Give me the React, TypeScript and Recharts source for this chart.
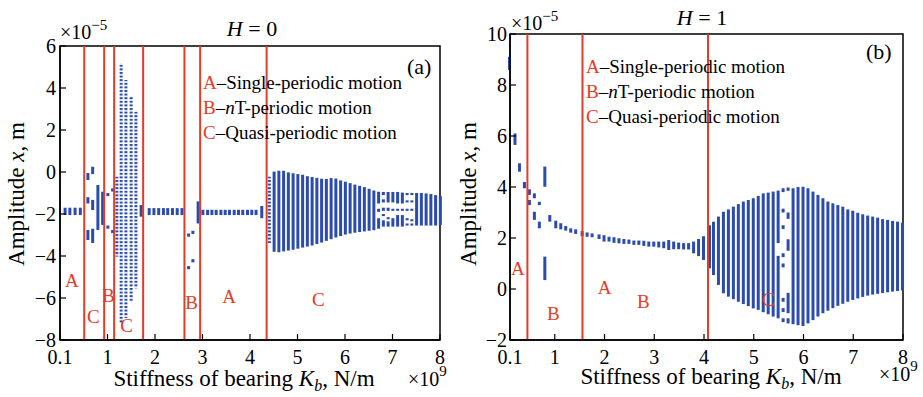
import { Bar, ComposedChart, ReferenceArea, ReferenceDot, ReferenceLine, XAxis, YAxis } from 'recharts';

const BLUE = '#2b4cad';
const RED = '#e63b27';
const FONT = '"Liberation Serif", "Times New Roman", Times, serif';

// Columns: [stiffness (×1e9), top1, bottom1, top2, bottom2, ...] in units of 1e-5 m
type Column = number[];

// ---- (a) H = 0 ----
const LEFT_X_TICKS = [0, 1, 2, 3, 4, 5, 6, 7, 8];
const LEFT_Y_TICKS = [-8, -6, -4, -2, 0, 2, 4, 6];
const LEFT_BOUNDS = [0.51, 0.93, 1.14, 1.75, 2.62, 2.95, 4.35];
const LEFT_LABELS: [string, number, number][] = [
  ['A', 0.25, -5.14], ['C', 0.7, -6.89], ['B', 1.02, -5.86], ['C', 1.4, -7.32],
  ['B', 2.77, -6.18], ['A', 3.56, -5.94], ['C', 5.44, -6.06],
];
const LEFT_COLUMNS: Column[] = [
  [0.1, -1.7, -2.05], [0.2, -1.7, -2.05], [0.31, -1.7, -2.05], [0.42, -1.7, -2.05],
  [0.58, -0.05, -0.38, -1.2, -1.5, -2.76, -3.24],
  [0.68, 0.25, -0.1, -1.33, -1.81, -2.7, -3.38],
  [0.79, -0.62, -2.76], [0.89, -0.94, -2.52],
  [1.0, -1.0, -1.15, -2.55, -2.7], [1.1, -0.78, -0.93, -2.76, -2.91],
  [1.7, -1.57, -2.13],
  [1.87, -1.72, -2.05], [1.97, -1.72, -2.05], [2.07, -1.72, -2.05], [2.17, -1.72, -2.05],
  [2.26, -1.72, -2.05], [2.36, -1.72, -2.05], [2.46, -1.72, -2.05], [2.56, -1.72, -2.05],
  [2.7, -2.93, -3.08, -4.48, -4.63], [2.79, -2.8, -2.95, -4.15, -4.3],
  [2.9, -1.4, -2.45],
  [3.0, -1.8, -2.05], [3.1, -1.8, -2.05], [3.19, -1.8, -2.05], [3.28, -1.8, -2.05],
  [3.38, -1.8, -2.05], [3.47, -1.8, -2.05], [3.56, -1.8, -2.05], [3.66, -1.8, -2.05],
  [3.75, -1.8, -2.05], [3.84, -1.8, -2.05], [3.94, -1.8, -2.05], [4.03, -1.8, -2.05],
  [4.12, -1.8, -2.05], [4.24, -1.62, -2.2],
  [4.5, 0.02, -3.8], [4.6, 0.06, -3.82], [4.7, 0.06, -3.78], [4.8, -0.02, -3.74],
  [4.9, -0.06, -3.7], [5.0, -0.1, -3.65], [5.1, -0.13, -3.6], [5.2, -0.2, -3.55],
  [5.3, -0.24, -3.5], [5.4, -0.28, -3.43], [5.5, -0.32, -3.36], [5.6, -0.33, -3.28],
  [5.7, -0.29, -3.2], [5.8, -0.31, -3.12], [5.9, -0.4, -3.05], [6.0, -0.46, -2.98],
  [6.1, -0.53, -2.93], [6.2, -0.6, -2.89], [6.3, -0.66, -2.86], [6.4, -0.72, -2.83],
  [6.5, -0.8, -2.8], [6.6, -0.88, -2.77],
  [6.7, -0.94, -1.5, -1.75, -1.9, -2.2, -2.7],
  [6.8, -0.95, -1.1, -1.3, -1.45, -1.7, -1.85, -2.0, -2.1, -2.3, -2.6],
  [6.9, -0.95, -1.45, -1.7, -1.85, -2.15, -2.25, -2.35, -2.6],
  [7.0, -0.95, -1.45, -1.75, -1.85, -2.2, -2.6],
  [7.1, -0.95, -1.5, -1.75, -1.85, -2.05, -2.6],
  [7.2, -0.98, -1.5, -1.75, -1.85, -2.05, -2.6],
  [7.3, -1.0, -1.1, -1.35, -1.45, -1.75, -1.85, -2.2, -2.3, -2.45, -2.55],
  [7.4, -1.0, -1.1, -1.35, -1.45, -1.75, -1.85, -2.25, -2.35, -2.45, -2.55],
  [7.5, -1.0, -2.55], [7.6, -1.0, -2.55], [7.7, -1.02, -2.55], [7.8, -1.05, -2.55],
  [7.9, -1.1, -2.55], [8.0, -1.15, -2.52],
];
// loosely dotted columns (quasi-periodic scatter)
const LEFT_SPARSE: Column[] = [
  [1.19, -0.22, -4.03], [1.28, 5.17, -7.2], [1.38, 4.38, -6.95],
  [1.49, 3.59, -6.18], [1.59, 2.87, -5.54], [4.4, -0.22, -3.4],
];

// ---- (b) H = 1 ----
const RIGHT_X_TICKS = [0.1, 1, 2, 3, 4, 5, 6, 7, 8];
const RIGHT_Y_TICKS = [-2, 0, 2, 4, 6, 8, 10];
const RIGHT_BOUNDS = [0.45, 1.557, 4.08];
const RIGHT_LABELS: [string, number, number][] = [
  ['A', 0.26, 0.81], ['B', 0.97, -0.96], ['A', 2.0, 0.06], ['B', 2.78, -0.48], ['C', 5.29, -0.4],
];
const RIGHT_COLUMNS: Column[] = [
  [0.1, 9.11, 8.59], [0.21, 6.1, 5.65], [0.3, 4.93, 4.6], [0.4, 4.2, 3.95],
  [0.5, 3.91, 3.69, 3.49, 3.29], [0.6, 3.75, 3.56, 3.03, 2.71],
  [0.7, 3.42, 3.29, 2.64, 2.38], [0.81, 4.8, 4.01, 1.27, 0.35],
  [0.91, 2.9, 2.64], [1.03, 2.68, 2.38], [1.13, 2.58, 2.34], [1.23, 2.47, 2.29],
  [1.33, 2.38, 2.21], [1.43, 2.34, 2.16], [1.56, 2.27, 2.07], [1.66, 2.22, 2.05],
  [1.76, 2.18, 2.03], [1.9, 2.14, 1.96], [2.0, 2.11, 1.86], [2.1, 2.05, 1.86],
  [2.2, 2.03, 1.81], [2.3, 1.99, 1.79], [2.4, 1.96, 1.77], [2.5, 1.94, 1.77],
  [2.6, 1.9, 1.73], [2.7, 1.9, 1.73], [2.8, 1.89, 1.69], [2.9, 1.86, 1.66],
  [3.0, 1.86, 1.66], [3.1, 1.86, 1.63], [3.2, 1.86, 1.6], [3.3, 1.92, 1.53],
  [3.4, 1.86, 1.56], [3.5, 1.82, 1.56], [3.6, 1.8, 1.55], [3.7, 1.8, 1.55],
  [3.8, 1.86, 1.4], [3.9, 1.96, 1.29], [4.0, 2.07, 1.14],
  [4.12, 2.5, 0.81], [4.2, 2.64, 0.55], [4.3, 2.84, 0.16], [4.4, 3.03, -0.17],
  [4.5, 3.12, -0.3], [4.6, 3.23, -0.4], [4.7, 3.33, -0.5], [4.8, 3.43, -0.59],
  [4.9, 3.49, -0.67], [5.0, 3.56, -0.76], [5.1, 3.65, -0.82], [5.2, 3.75, -0.91],
  [5.3, 3.78, -0.99], [5.4, 3.82, -1.08],
  [5.5, 3.86, 1.8, 1.3, -1.15],
  [5.6, 3.95, 3.8, 3.15, 3.0, 2.5, 2.35, 1.4, 1.25, 1.0, 0.85, -0.35, -0.5, -0.75, -0.9, -1.15, -1.3],
  [5.7, 3.98, 3.85, 3.0, 2.75, 1.95, 1.5, -0.15, -0.95, -1.15, -1.35],
  [5.8, 3.95, -1.38], [5.9, 4.0, -1.42], [6.0, 4.01, -1.45], [6.1, 3.95, -1.35],
  [6.2, 3.82, -1.22], [6.3, 3.69, -1.08], [6.4, 3.56, -0.95], [6.5, 3.43, -0.85],
  [6.6, 3.36, -0.75], [6.7, 3.29, -0.66], [6.8, 3.23, -0.58], [6.9, 3.12, -0.5],
  [7.0, 3.07, -0.43], [7.1, 2.99, -0.37], [7.2, 2.93, -0.31], [7.3, 2.88, -0.26],
  [7.4, 2.84, -0.22], [7.5, 2.8, -0.19], [7.6, 2.74, -0.16], [7.7, 2.71, -0.13],
  [7.8, 2.67, -0.1], [7.9, 2.64, -0.08], [8.0, 2.6, -0.06],
];
const RIGHT_SPARSE: Column[] = [];

const SEG_KEYS = ['s0', 's1', 's2', 's3', 's4', 's5', 's6', 's7', 'dots'];

type Row = { x: number; [key: string]: number | [number, number] };

function buildRows(cols: Column[], sparse: Column[]): Row[] {
  const rows = new Map<number, Row>();
  const get = (x: number) => {
    if (!rows.has(x)) rows.set(x, { x });
    return rows.get(x)!;
  };
  cols.forEach(([x, ...vals]) => {
    const row = get(x);
    for (let i = 0; i + 1 < vals.length; i += 2) row[`s${i / 2}`] = [vals[i + 1], vals[i]];
  });
  sparse.forEach(([x, hi, lo]) => {
    get(x).dots = [lo, hi];
  });
  return [...rows.values()].sort((a, b) => a.x - b.x);
}

const fmtY = (v: number) => (v < 0 ? `\u2212${-v}` : `${v}`);

const TICK_STYLE = { fontSize: 20, fill: '#000', fontFamily: FONT, style: { fontFamily: FONT } };

interface PanelProps {
  rows: Row[];
  xDomain: [number, number];
  yDomain: [number, number];
  xTicks: number[];
  yTicks: number[];
  bounds: number[];
  labels: [string, number, number][];
  xFormat: (v: number) => string;
  marginLeft: number;
  marginTop: number;
  width: number;
  yTickMargin: number;
  patternId: string;
}

const Panel = ({ rows, xDomain, yDomain, xTicks, yTicks, bounds, labels, xFormat, marginLeft, marginTop, width, yTickMargin, patternId }: PanelProps) => (
  <ComposedChart width={width} height={397} data={rows} margin={{ top: marginTop, right: 20, left: marginLeft, bottom: 27 }}>
    <defs>
      <pattern id={patternId} width="4" height="3.6" patternUnits="userSpaceOnUse">
        <rect width="4" height="2" fill={BLUE} />
      </pattern>
    </defs>
    {SEG_KEYS.map((k, i) => (
      <XAxis
        key={k}
        xAxisId={k}
        dataKey="x"
        type="number"
        domain={xDomain}
        ticks={xTicks}
        hide={i !== 0}
        height={i === 0 ? 30 : 0}
        tickFormatter={xFormat}
        tickSize={-6}
        tickMargin={16}
        tick={TICK_STYLE}
        axisLine={{ stroke: '#000', strokeWidth: 1.5 }}
        tickLine={{ stroke: '#000', strokeWidth: 1.2 }}
        interval={0}
      />
    ))}
    <YAxis
      type="number"
      domain={yDomain}
      ticks={yTicks}
      width={50}
      tickFormatter={fmtY}
      tickSize={-6}
      tickMargin={yTickMargin}
      tick={TICK_STYLE}
      axisLine={{ stroke: '#000', strokeWidth: 1.5 }}
      tickLine={{ stroke: '#000', strokeWidth: 1.2 }}
      interval={0}
    />
    <ReferenceArea xAxisId="s0" x1={xDomain[0]} x2={xDomain[1]} y1={yDomain[0]} y2={yDomain[1]} fill="none" stroke="#000" strokeWidth={1.5} fillOpacity={0} />
    {SEG_KEYS.map((k) => (
      <Bar
        key={k}
        xAxisId={k}
        dataKey={k}
        barSize={3}
        fill={k === 'dots' ? `url(#${patternId})` : BLUE}
        isAnimationActive={false}
      />
    ))}
    {bounds.map((b) => (
      <ReferenceLine key={b} xAxisId="s0" x={b} stroke={RED} strokeWidth={2} />
    ))}
    {labels.map(([t, x, y], i) => (
      <ReferenceDot
        key={i}
        xAxisId="s0"
        x={x}
        y={y}
        r={0}
        fill="none"
        stroke="none"
        label={{ value: t, position: 'center', fill: RED, fontSize: 19, fontFamily: FONT, style: { fontFamily: FONT } }}
      />
    ))}
  </ComposedChart>
);

const leftRows = buildRows(LEFT_COLUMNS, LEFT_SPARSE);
const rightRows = buildRows(RIGHT_COLUMNS, RIGHT_SPARSE);

const Legend = ({ x, y }: { x: number; y: number }) => (
  <g fontSize={19}>
    <text x={x} y={y}>
      <tspan fill={RED}>A</tspan>–Single-periodic motion
    </text>
    <text x={x} y={y + 25}>
      <tspan fill={RED}>B</tspan>–<tspan fontStyle="italic">n</tspan>T-periodic motion
    </text>
    <text x={x} y={y + 50}>
      <tspan fill={RED}>C</tspan>–Quasi-periodic motion
    </text>
  </g>
);

const XLabel = ({ x, y }: { x: number; y: number }) => (
  <text x={x} y={y} textAnchor="middle" fontSize={23}>
    Stiffness of bearing <tspan fontStyle="italic">K</tspan>
    <tspan fontStyle="italic" fontSize={16} dy={5}>b</tspan>
    <tspan dy={-5}>, N/m</tspan>
  </text>
);

const YLabel = ({ x, y }: { x: number; y: number }) => (
  <text x={x} y={y} textAnchor="middle" fontSize={23} transform={`rotate(-90 ${x} ${y})`}>
    Amplitude <tspan fontStyle="italic">x</tspan>, m
  </text>
);

export default function App() {
  return (
    <div style={{ position: 'absolute', left: 0, top: 0, width: 923, height: 397, background: '#fff', overflow: 'hidden', fontFamily: FONT }}>
      <div style={{ position: 'absolute', left: 0, top: 0 }}>
        <Panel
          rows={leftRows}
          xDomain={[0, 8]}
          yDomain={[-8, 6]}
          xTicks={LEFT_X_TICKS}
          yTicks={LEFT_Y_TICKS}
          bounds={LEFT_BOUNDS}
          labels={LEFT_LABELS}
          xFormat={(v) => (v === 0 ? '0.1' : `${v}`)}
          marginLeft={10}
          marginTop={46}
          width={460}
          yTickMargin={10}
          patternId="dotsL"
        />
      </div>
      <div style={{ position: 'absolute', left: 460, top: 0 }}>
        <Panel
          rows={rightRows}
          xDomain={[0.1, 8]}
          yDomain={[-2, 10]}
          xTicks={RIGHT_X_TICKS}
          yTicks={RIGHT_Y_TICKS}
          bounds={RIGHT_BOUNDS}
          labels={RIGHT_LABELS}
          xFormat={(v) => `${v}`}
          marginLeft={0}
          marginTop={34}
          width={463}
          yTickMargin={9}
          patternId="dotsR"
        />
      </div>
      <svg width={923} height={397} style={{ position: 'absolute', left: 0, top: 0, pointerEvents: 'none', fontFamily: FONT }} fill="#000">
        <text x={252} y={36} textAnchor="middle" fontSize={22}>
          <tspan fontStyle="italic">H</tspan> = 0
        </text>
        <text x={702} y={25} textAnchor="middle" fontSize={22}>
          <tspan fontStyle="italic">H</tspan> = 1
        </text>
        <text x={60} y={39} fontSize={20}>
          ×10<tspan dy={-9} fontSize={15}>−5</tspan>
        </text>
        <text x={511} y={30} fontSize={20}>
          ×10<tspan dy={-9} fontSize={15}>−5</tspan>
        </text>
        <text x={407} y={74} fontSize={22}>(a)</text>
        <text x={866} y={59} fontSize={22}>(b)</text>
        <Legend x={203} y={89} />
        <Legend x={586} y={73} />
        <XLabel x={244} y={386} />
        <XLabel x={711} y={384} />
        <text x={408} y={386} fontSize={20}>
          ×10<tspan dy={-10} fontSize={15}>9</tspan>
        </text>
        <text x={879} y={381} fontSize={20}>
          ×10<tspan dy={-10} fontSize={15}>9</tspan>
        </text>
        <YLabel x={24} y={194} />
        <YLabel x={476} y={194} />
      </svg>
    </div>
  );
}
